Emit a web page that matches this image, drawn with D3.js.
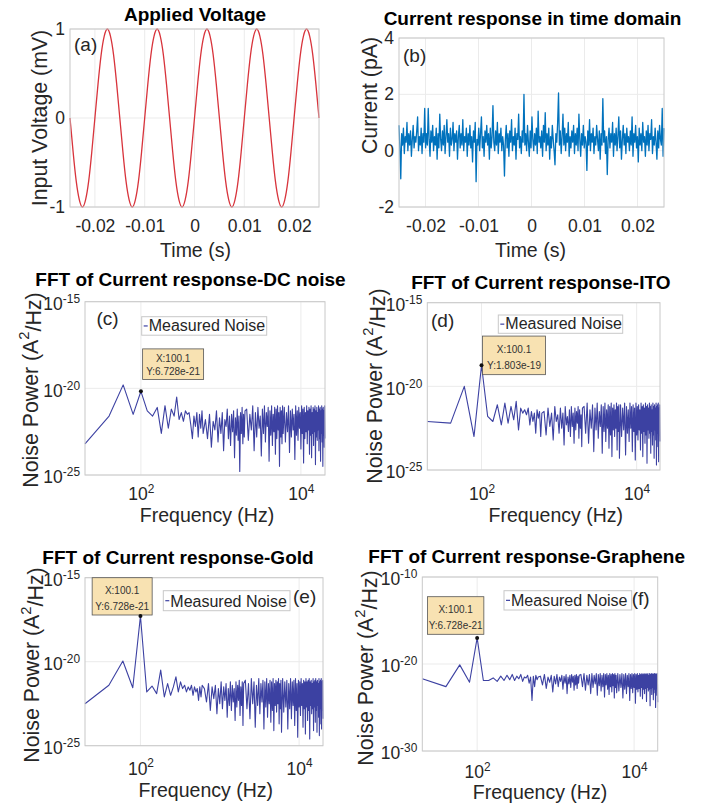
<!DOCTYPE html>
<html>
<head>
<meta charset="utf-8">
<script src="https://cdn.jsdelivr.net/npm/d3@7"></script>
<style>
body { margin: 0; background: #fff; }
text { font-family: "Liberation Sans", Arial, sans-serif; fill: #262626; }
</style>
</head>
<body>
<script>
var w = 701;
var h = 808;

// (a) applied voltage, 16 samples per 10 ms period
var voltageSpan = [-0.025, 0.025];
var voltage = [
  0,-0.38,-0.71,-0.92,-1,-0.92,-0.71,-0.38,0,0.38,0.71,0.92,1,0.92,0.71,0.38,
  0,-0.38,-0.71,-0.92,-1,-0.92,-0.71,-0.38,0,0.38,0.71,0.92,1,0.92,0.71,0.38,
  0,-0.38,-0.71,-0.92,-1,-0.92,-0.71,-0.38,0,0.38,0.71,0.92,1,0.92,0.71,0.38,
  0,-0.38,-0.71,-0.92,-1,-0.92,-0.71,-0.38,0,0.38,0.71,0.92,1,0.92,0.71,0.38,
  0,-0.38,-0.71,-0.92,-1,-0.92,-0.71,-0.38,0,0.38,0.71,0.92,1,0.92,0.71,0.38,
  0
];

// (b) current response, pA
var currentSpan = [-0.025, 0.025];
var current = [
  0.9,0.1,-1.0,0.6,0.2,0.8,-0.1,0.5,0.3,1.0,0.0,0.6,0.2,0.7,-0.2,0.4,0.9,0.1,0.5,0.3,
  0.7,1.2,0.0,0.5,0.2,0.8,-0.1,0.6,0.3,1.5,0.1,0.6,0.2,1.5,0.4,-0.2,0.7,0.3,0.9,0.0,
  0.5,0.2,0.8,-0.3,0.6,0.1,1.3,0.4,0.0,0.7,0.2,0.9,-0.1,0.5,1.1,0.3,0.6,-0.2,0.8,0.2,
  0.4,1.0,0.0,0.6,0.3,0.7,-0.3,0.5,0.9,0.1,0.6,0.2,1.1,0.0,0.5,0.3,0.8,-0.2,0.6,0.2,
  0.9,0.1,0.5,-0.4,0.7,0.3,1.0,-1.1,0.4,0.2,0.8,0.0,0.6,1.2,0.1,0.5,-0.2,0.7,0.3,0.9,
  0.2,0.6,-0.3,0.8,0.1,0.5,1.6,0.3,0.0,0.7,0.2,1.0,-0.1,0.6,0.3,0.8,0.0,0.5,0.2,-0.9,
  0.4,0.9,0.1,0.6,-0.2,0.7,0.3,1.1,0.0,0.5,0.2,0.8,-0.3,0.6,0.4,1.3,0.1,0.5,-0.1,0.7,
  0.3,2.0,0.2,0.6,0.0,0.9,0.3,-0.2,0.7,0.1,1.2,0.4,0.0,0.6,0.2,0.8,-0.1,1.4,0.3,0.5,
  0.1,0.7,-0.2,0.9,0.3,1.35,0.0,0.6,0.2,0.8,-0.3,0.5,0.1,0.9,0.4,0.0,-0.5,0.6,0.3,1.0,
  2.05,0.2,0.7,-0.1,0.5,1.3,0.2,0.8,0.0,0.6,0.3,1.0,-0.2,0.5,0.1,0.7,0.3,0.9,-0.1,0.6,
  0.2,0.8,0.0,1.3,0.4,-0.2,0.6,0.2,0.9,0.1,0.5,0.3,-0.7,0.7,0.2,1.1,0.0,0.6,0.3,0.8,
  -0.1,0.5,0.2,0.9,0.4,0.0,0.7,-0.3,0.6,0.2,1.85,0.3,0.7,-0.1,0.5,-0.85,0.4,0.8,0.1,0.6,
  0.3,1.0,-0.2,0.6,0.2,0.8,0.0,0.5,1.2,0.1,0.7,-0.3,0.4,0.9,0.2,0.6,-0.1,0.8,0.3,0.5,
  0.0,0.7,0.2,1.2,-0.2,0.6,0.3,0.9,0.1,0.5,-0.4,0.8,0.2,0.6,0.0,1.0,0.3,0.5,-0.2,0.7,
  0.2,0.9,0.0,0.6,0.4,1.1,-0.1,0.5,0.2,0.8,0.3,-0.3,0.7,0.1,0.9,0.4,0.2,1.5,-0.2,0.8
];

// FFT bins (Hz), thinned at high frequency
var freqs = [].concat(d3.range(20, 601, 20), d3.range(640, 2001, 40),
                      d3.range(2100, 6001, 100), d3.range(6200, 20001, 200));

// noise power, log10(A^2/Hz)
var noiseDC = [
  -23.2,-21.6,-19.8,-21.5,-20.17,-21.3,-21.6,-21.1,-22.6,-21.0,
  -22.3,-21.2,-21.6,-20.5,-21.8,-21.4,-21.9,-21.3,-21.5,-21.4,
  -22.1,-22.9,-21.6,-22.2,-21.4,-22.8,-21.5,-22.3,-21.3,-22.6,
  -21.8,-22.9,-21.5,-23.4,-21.9,-22.4,-21.3,-23.1,-21.7,-22.6,
  -21.4,-23.6,-21.8,-22.2,-21.2,-22.9,-21.6,-23.3,-21.5,-22.5,
  -21.3,-24.0,-21.7,-22.7,-21.2,-23.0,-21.6,-24.8,-21.4,-22.6,
  -21.1,-23.2,-21.5,-22.8,-21.3,
  -21.2,-23.0,-21.5,-22.4,-21.0,-23.6,-21.4,-22.8,-21.1,-22.3,
  -21.6,-23.9,-21.2,-22.6,-21.0,-23.1,-21.4,-22.2,-21.1,-24.2,
  -21.3,-22.7,-21.0,-23.3,-21.5,-22.5,-21.1,-23.8,-21.2,-22.9,
  -21.0,-22.4,-21.4,-24.5,-21.1,-22.8,-21.3,-23.2,-21.0,-22.6,
  -21.1,-23.1,-21.4,-22.5,-21.0,-23.7,-21.3,-22.8,-21.2,-22.4,
  -21.5,-24.1,-21.0,-22.7,-21.3,-23.0,-21.1,-22.3,-21.4,-23.5,
  -21.0,-22.6,-21.2,-24.3,-21.1,-22.9,-21.4,-22.5,-21.0,-23.2,
  -21.3,-22.4,-21.1,-23.8,-21.2,-22.7,-21.0,-24.0,-21.4,-22.6,
  -21.1,-23.3,-21.2,-22.5,-21.0,-24.4,-21.3,-22.8,-21.1,-23.0,
  -21.4,-22.4,-21.0,-23.6,-21.2,-22.9,-21.1,-24.2,-21.3,-22.6,
  -21.0,-23.1,-21.2,-24.5,-21.1,-22.7,-21.3,-23.4,-21.0,-22.9
];
var noiseITO = [
  -22.1,-22.2,-20.0,-23.0,-18.74,-21.8,-22.1,-21.1,-22.3,-21.0,
  -22.2,-21.2,-22.0,-20.9,-22.6,-21.3,-21.6,-21.4,-21.7,-21.3,
  -22.3,-21.5,-22.1,-21.6,-22.8,-21.4,-21.9,-21.5,-23.0,-21.6,
  -21.5,-22.9,-21.3,-22.4,-21.6,-23.2,-21.2,-22.1,-21.7,-22.8,
  -21.3,-22.5,-21.6,-23.5,-21.2,-22.3,-21.8,-22.7,-21.4,-23.0,
  -21.2,-22.4,-21.6,-23.4,-21.3,-22.6,-21.5,-22.2,-21.2,-23.1,
  -21.4,-22.5,-21.7,-23.6,-21.3,
  -21.2,-22.8,-21.0,-23.4,-21.4,-22.5,-21.1,-23.9,-21.3,-22.6,
  -21.0,-23.1,-21.5,-22.4,-21.1,-24.0,-21.2,-22.7,-21.0,-23.3,
  -21.4,-22.5,-21.1,-23.7,-21.2,-22.9,-21.0,-24.2,-21.3,-22.6,
  -21.1,-23.0,-21.4,-22.5,-21.0,-23.8,-21.2,-22.7,-21.1,-24.3,
  -21.1,-23.0,-21.3,-22.6,-21.0,-24.1,-21.2,-22.8,-21.4,-23.3,
  -21.0,-22.5,-21.2,-23.9,-21.1,-22.7,-21.3,-24.4,-21.0,-22.9,
  -21.2,-23.2,-21.1,-22.6,-21.4,-23.8,-21.0,-22.8,-21.2,-24.2,
  -21.1,-22.7,-21.3,-23.4,-21.0,-22.9,-21.2,-24.6,-21.1,-22.6,
  -21.3,-23.1,-21.0,-22.8,-21.2,-24.0,-21.1,-22.7,-21.4,-23.5,
  -21.0,-22.9,-21.2,-24.3,-21.1,-22.6,-21.3,-23.2,-21.0,-24.7,
  -21.2,-22.8,-21.1,-23.6,-21.0,-24.5,-21.3,-22.9,-21.1,-23.3
];
var noiseGold = [
  -22.5,-21.4,-19.96,-21.55,-17.28,-21.8,-21.45,-21.9,-20.5,-22.1,
  -21.3,-22.0,-21.5,-20.9,-21.8,-21.2,-21.6,-21.4,-21.8,-21.5,
  -21.7,-21.4,-22.0,-21.5,-21.8,-21.6,-22.3,-21.5,-22.1,-21.4,
  -21.6,-22.4,-21.3,-22.9,-21.5,-22.2,-21.4,-23.1,-21.6,-22.5,
  -21.2,-22.8,-21.5,-22.3,-21.3,-23.3,-21.6,-22.6,-21.2,-22.9,
  -21.4,-22.4,-21.6,-23.5,-21.2,-22.7,-21.4,-22.3,-21.1,-23.2,
  -21.5,-22.6,-21.2,-23.8,-21.3,
  -21.1,-22.8,-21.3,-23.4,-21.0,-22.5,-21.2,-23.9,-21.4,-22.6,
  -21.0,-23.1,-21.3,-22.4,-21.1,-24.0,-21.2,-22.7,-21.0,-23.3,
  -21.3,-22.5,-21.1,-23.6,-21.2,-22.9,-21.0,-24.1,-21.3,-22.6,
  -21.1,-23.0,-21.2,-22.5,-21.0,-23.7,-21.3,-22.8,-21.1,-24.2,
  -21.0,-23.0,-21.2,-22.7,-21.1,-24.0,-21.3,-22.8,-21.0,-23.4,
  -21.2,-22.6,-21.1,-23.8,-21.0,-22.9,-21.3,-24.5,-21.1,-22.7,
  -21.2,-23.2,-21.0,-22.6,-21.3,-23.9,-21.1,-22.8,-21.2,-24.3,
  -21.0,-22.7,-21.2,-23.5,-21.1,-22.9,-21.0,-24.6,-21.2,-22.6,
  -21.1,-23.1,-21.3,-22.8,-21.0,-24.1,-21.2,-22.7,-21.1,-23.6,
  -21.0,-22.9,-21.2,-24.2,-21.1,-22.6,-21.3,-23.3,-21.0,-24.4,
  -21.2,-22.8,-21.1,-23.7,-21.0,-24.0,-21.2,-22.9,-21.1,-23.4
];
var noiseGraphene = [
  -21.7,-22.6,-20.1,-22.1,-17.0,-21.9,-21.9,-21.6,-22.0,-21.4,
  -21.9,-21.3,-21.8,-21.2,-21.9,-21.4,-21.7,-21.2,-22.0,-21.5,
  -21.6,-21.3,-22.2,-21.5,-24.2,-21.4,-22.6,-21.3,-21.8,-21.5,
  -21.4,-22.4,-21.2,-22.8,-21.5,-22.1,-21.3,-23.2,-21.4,-22.3,
  -21.2,-22.6,-21.5,-22.0,-21.3,-22.9,-21.4,-22.2,-21.2,-23.4,
  -21.5,-22.3,-21.3,-22.7,-21.2,-22.1,-21.4,-23.0,-21.3,-22.4,
  -21.2,-22.8,-21.4,-22.2,-21.3,
  -21.2,-22.6,-21.1,-23.0,-21.3,-22.4,-21.2,-23.4,-21.1,-22.7,
  -21.3,-22.3,-21.1,-23.6,-21.2,-22.5,-21.1,-23.1,-21.3,-22.6,
  -21.1,-23.8,-21.2,-22.4,-21.1,-22.9,-21.3,-23.5,-21.1,-22.6,
  -21.2,-23.2,-21.1,-22.5,-21.2,-23.9,-21.1,-22.7,-21.3,-23.3,
  -21.1,-23.1,-21.2,-22.7,-21.1,-23.9,-21.2,-22.9,-21.1,-23.4,
  -21.3,-22.6,-21.1,-24.2,-21.2,-22.8,-21.1,-23.3,-21.2,-22.7,
  -21.1,-24.5,-21.2,-22.9,-21.1,-23.2,-21.3,-22.8,-21.1,-23.7,
  -21.2,-22.7,-21.1,-24.0,-21.2,-22.9,-21.1,-23.4,-21.2,-22.8,
  -21.1,-24.3,-21.2,-22.7,-21.1,-23.1,-21.3,-22.9,-21.1,-24.8,
  -21.2,-22.8,-21.1,-23.5,-21.2,-22.7,-21.1,-24.1,-21.2,-22.9,
  -21.1,-23.3,-21.2,-25.0,-21.1,-22.8,-21.2,-23.6,-21.1,-24.4
];

var timeTicks = [-0.02, -0.01, 0, 0.01, 0.02];
var voltTicks = [-1, 0, 1];
var currentTicks = [-2, 0, 2, 4];
var freqTicks = [1e2, 1e4];
var powerTicks = [1e-25, 1e-20, 1e-15];
var powerTicksWide = [1e-30, 1e-20, 1e-10];

var tipX = "X:100.1";
var tipY = ["Y:6.728e-21", "Y:1.803e-19", "Y:6.728e-21", "Y:6.728e-21"];
var legendLabel = "Measured Noise";

var boxGray = "#c8c8c8";
var gridGray = "#ebebeb";
var fftBlue = "#3c41a2";

var svg = d3.select("body")
            .append("svg")
            .attr("width", w)
            .attr("height", h);

function sup(text, d) {
    text.text(null);
    text.append("tspan").text("10");
    text.append("tspan")
        .attr("dy", "-0.6em")
        .attr("font-size", "0.68em")
        .text(Math.round(Math.log10(d)));
}

function panel(p) {
    var g = svg.append("g");
    var xr = p.x.range(), yr = p.y.range();

    // grid
    g.selectAll(".vgrid").data(p.xTicks).enter().append("line")
        .attr("class", "vgrid")
        .attr("x1", function(d) { return p.x(d); })
        .attr("x2", function(d) { return p.x(d); })
        .attr("y1", yr[0]).attr("y2", yr[1])
        .attr("stroke", gridGray);
    g.selectAll(".hgrid").data(p.yTicks).enter().append("line")
        .attr("class", "hgrid")
        .attr("y1", function(d) { return p.y(d); })
        .attr("y2", function(d) { return p.y(d); })
        .attr("x1", xr[0]).attr("x2", xr[1])
        .attr("stroke", gridGray);

    // data
    g.append("path")
        .datum(p.data)
        .attr("fill", "none")
        .attr("stroke", p.color)
        .attr("stroke-width", p.lw)
        .attr("stroke-linejoin", "round")
        .attr("d", d3.line()
            .x(function(d) { return p.x(d[0]); })
            .y(function(d) { return p.y(d[1]); })
            .curve(p.curve || d3.curveLinear));

    // box
    g.append("rect")
        .attr("x", xr[0]).attr("y", yr[1])
        .attr("width", xr[1] - xr[0]).attr("height", yr[0] - yr[1])
        .attr("fill", "none").attr("stroke", boxGray);

    var plain = function(d) { return String(d); };
    var blank = function() { return ""; };
    //X axis
    var xa = g.append("g")
        .attr("transform", "translate(0," + yr[0] + ")")
        .call(d3.axisBottom(p.x).tickValues(p.xTicks).tickSize(0)
              .tickPadding(p.xPad).tickFormat(p.log ? blank : plain));
    //Y axis
    var ya = g.append("g")
        .attr("transform", "translate(" + xr[0] + ",0)")
        .call(d3.axisLeft(p.y).tickValues(p.yTicks).tickSize(0)
              .tickPadding(5).tickFormat(p.log ? blank : plain));
    [xa, ya].forEach(function(a) {
        a.select(".domain").remove();
        a.attr("font-size", null).attr("font-family", null);
        a.selectAll("text").attr("font-size", "17.5px").attr("fill", "#262626");
        if (p.log) a.selectAll("text").each(function(d) { sup(d3.select(this), d); });
    });
    if (p.log) ya.selectAll("text").attr("dy", "0.45em");

    // title, letter, labels
    g.append("text")
        .attr("x", p.title[1]).attr("y", p.title[2])
        .attr("text-anchor", p.title[3] || "middle")
        .attr("font-size", "19px").attr("font-weight", "bold")
        .style("fill", "#000")
        .text(p.title[0]);
    g.append("text")
        .attr("x", p.letter[1]).attr("y", p.letter[2])
        .attr("font-size", "19px")
        .text(p.letter[0]);
    g.append("text")
        .attr("x", p.xlabel[1]).attr("y", p.xlabel[2])
        .attr("text-anchor", "middle")
        .attr("font-size", "19.5px")
        .text(p.xlabel[0]);
    var yl = g.append("text")
        .attr("transform", "translate(" + p.ylabel[1] + "," + p.ylabel[2] + ") rotate(-90)")
        .attr("text-anchor", "middle")
        .attr("font-size", "21.3px");
    if (p.log) {
        yl.append("tspan").text("Noise Power (A");
        yl.append("tspan").attr("dy", "-0.55em").attr("font-size", "0.7em").text("2");
        yl.append("tspan").attr("dy", "0.55em").text("/Hz)");
    } else {
        yl.text(p.ylabel[0]);
    }

    // legend
    if (p.legend) {
        var L = p.legend;
        g.append("rect")
            .attr("x", L[0]).attr("y", L[1]).attr("width", L[2]).attr("height", L[3])
            .attr("fill", "#fff").attr("stroke", boxGray);
        g.append("line")
            .attr("x1", L[0] + 2).attr("x2", L[0] + 6)
            .attr("y1", L[1] + L[3] / 2).attr("y2", L[1] + L[3] / 2)
            .attr("stroke", p.color).attr("stroke-width", 1.2);
        g.append("text")
            .attr("x", L[0] + 7).attr("y", L[1] + L[3] - 4)
            .attr("font-size", "16px")
            .text(legendLabel);
    }

    // data tip at the 100 Hz bin
    if (p.tip) {
        var T = p.tip;
        var k = freqs.indexOf(100);
        var px = p.x(p.data[k][0]), py = p.y(p.data[k][1]);
        var bx = px + T[0], by = py + T[1];
        g.append("rect")
            .attr("x", bx).attr("y", by).attr("width", T[2]).attr("height", T[3])
            .attr("fill", "#f8e2b2").attr("stroke", "#555").attr("stroke-width", 0.8);
        g.selectAll(".tiptext").data([tipX, T[4]]).enter().append("text")
            .attr("class", "tiptext")
            .attr("x", bx + T[2] / 2)
            .attr("y", function(d, i) { return by + T[3] * (i ? 0.86 : 0.44); })
            .attr("text-anchor", "middle")
            .attr("font-size", "10px")
            .style("fill", "#333")
            .text(function(d) { return d; });
        g.append("circle").attr("cx", px).attr("cy", py).attr("r", 2).attr("fill", "#111");
    }
}

function idxScale(arr, span) {
    return d3.scaleLinear().domain([0, arr.length - 1]).range(span);
}
var vt = idxScale(voltage, voltageSpan);
var ct = idxScale(current, currentSpan);
function fftData(v) {
    return freqs.map(function(f, i) { return [f, Math.pow(10, v[i])]; })
                .filter(function(d, i) { return i < v.length; });
}

panel({
    x: d3.scaleLinear().domain([-0.025, 0.025]).range([70, 319]),
    y: d3.scaleLinear().domain([-1, 1]).range([207, 29]),
    xTicks: timeTicks, yTicks: voltTicks, xPad: 12.3,
    data: voltage.map(function(v, i) { return [vt(i), v]; }),
    color: "#d8343c", lw: 1.3, curve: d3.curveNatural,
    title: ["Applied Voltage", 195, 20.5],
    letter: ["(a)", 74, 51],
    xlabel: ["Time (s)", 195.5, 256.5],
    ylabel: ["Input Voltage (mV)", 46.5, 118]
});

panel({
    x: d3.scaleLinear().domain([-0.025, 0.025]).range([399, 664]),
    y: d3.scaleLinear().domain([-2, 4]).range([207, 38]),
    xTicks: timeTicks, yTicks: currentTicks, xPad: 12.6,
    data: current.map(function(v, i) { return [ct(i), v]; }),
    color: "#0072BD", lw: 1.3,
    title: ["Current response in time domain", 532.5, 25],
    letter: ["(b)", 403, 61.5],
    xlabel: ["Time (s)", 530.5, 257],
    ylabel: ["Current (pA)", 376.5, 95.5]
});

panel({
    x: d3.scaleLog().domain([20, 20000]).range([85, 325]),
    y: d3.scaleLog().domain([1e-25, 1e-15]).range([475, 301.7]),
    log: true, xTicks: freqTicks, yTicks: powerTicks, xPad: 13,
    data: fftData(noiseDC), color: fftBlue, lw: 1.1,
    title: ["FFT of Current response-DC noise", 190.5, 285.5],
    letter: ["(c)", 96.5, 325],
    xlabel: ["Frequency (Hz)", 207, 522],
    ylabel: ["", 37.5, 390],
    legend: [141.7, 316.7, 125, 18.5],
    tip: [1.7, -42.4, 61, 30.7, tipY[0]]
});

panel({
    x: d3.scaleLog().domain([20, 20000]).range([427.3, 660]),
    y: d3.scaleLog().domain([1e-25, 1e-15]).range([470, 302.7]),
    log: true, xTicks: freqTicks, yTicks: powerTicks, xPad: 17.5,
    data: fftData(noiseITO), color: fftBlue, lw: 1.1,
    title: ["FFT of Current response-ITO", 540.8, 289],
    letter: ["(d)", 431, 326.5],
    xlabel: ["Frequency (Hz)", 555.8, 522],
    ylabel: ["", 381.5, 386],
    legend: [498.3, 315, 124.4, 18.3],
    tip: [1, -29.2, 63, 38.6, tipY[1]]
});

panel({
    x: d3.scaleLog().domain([20, 20000]).range([85, 323]),
    y: d3.scaleLog().domain([1e-25, 1e-15]).range([745.7, 577.7]),
    log: true, xTicks: freqTicks, yTicks: powerTicks, xPad: 16.5,
    data: fftData(noiseGold), color: fftBlue, lw: 1.1,
    title: ["FFT of Current response-Gold", 178, 564],
    letter: ["(e)", 293, 603],
    xlabel: ["Frequency (Hz)", 205.8, 797],
    ylabel: ["", 39, 665],
    legend: [163.3, 590.7, 126.7, 20],
    tip: [-48.3, -38.3, 60, 37.3, tipY[2]]
});

panel({
    x: d3.scaleLog().domain([20, 20000]).range([422.3, 657.7]),
    y: d3.scaleLog().domain([1e-30, 1e-10]).range([751, 577]),
    log: true, xTicks: freqTicks, yTicks: powerTicksWide, xPad: 14.5,
    data: fftData(noiseGraphene), color: fftBlue, lw: 1.1,
    title: ["FFT of Current response-Graphene", 368.3, 563, "start"],
    letter: ["(f)", 631.7, 605],
    xlabel: ["Frequency (Hz)", 540, 799],
    ylabel: ["", 373, 668],
    legend: [504, 590.7, 127.7, 19.3],
    tip: [-49.6, -41.2, 56.3, 37.6, tipY[3]]
});
</script>
</body>
</html>
